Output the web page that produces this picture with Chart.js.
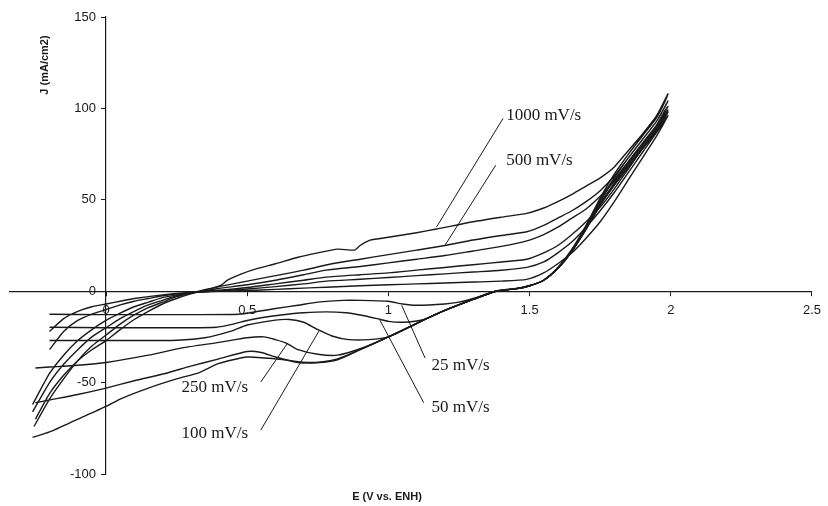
<!DOCTYPE html>
<html><head><meta charset="utf-8">
<script src="https://cdn.jsdelivr.net/npm/chart.js@4.4.1/dist/chart.umd.min.js"></script>
<style>html,body{margin:0;padding:0;background:#fff;}#wrap{width:828px;height:506px;}</style>
</head><body><div id="wrap"><canvas id="c" width="828" height="506"></canvas></div>
<script>
// ---- data (E in V vs. ENH, J in mA/cm2) ----
const xTicks = [0, 0.5, 1, 1.5, 2, 2.5];
const yTicks = [-100, -50, 0, 50, 100, 150];
const scanRates = ['25 mV/s', '50 mV/s', '100 mV/s', '250 mV/s', '500 mV/s', '1000 mV/s'];

const E_1000 = [-0.25,-0.2,-0.15,-0.1,-0.05,0,0.05,0.1,0.15,0.2,0.25,0.3,0.35,0.38,0.41,0.43,0.48,0.54,0.6,0.68,0.75,0.82,0.88,0.9,0.935,1.0,1.1,1.17,1.3,1.4,1.49,1.55,1.6,1.65,1.7,1.75,1.8,1.85,1.9,1.95,1.99,
  1.98,1.95,1.9,1.85,1.8,1.75,1.7,1.65,1.6,1.55,1.5,1.45,1.38,1.3,1.2,1.135,1.0,0.9,0.82,0.75,0.68,0.6,0.5,0.4,0.33,0.25,0.15,0.05,0,-0.1,-0.2,-0.26];
const J_1000 = [-70,-56,-46,-38,-32,-27,-21,-15.5,-11,-7,-4,-1.5,0.5,1.8,3.5,6,9.5,12.6,15,18.6,21,23,22.5,25,27.9,29.5,32,34,38,40.5,42.6,45.5,49,53,57.5,62,68,77,86,96,108,
  104,95,85,75,64,51,36,23,13,6,3,1.5,0,-4.5,-10.5,-15,-25,-32,-37.5,-39,-38.5,-37,-36,-39.5,-44.5,-48,-53,-59,-63,-70,-77,-80];

const E_500 = [-0.255,-0.2,-0.15,-0.1,-0.05,0,0.05,0.1,0.15,0.2,0.25,0.3,0.35,0.4,0.5,0.6,0.7,0.8,0.9,1.0,1.1,1.2,1.3,1.4,1.49,1.55,1.6,1.65,1.7,1.75,1.8,1.85,1.9,1.95,1.99,
  1.98,1.95,1.9,1.85,1.8,1.75,1.7,1.65,1.6,1.55,1.5,1.45,1.38,1.3,1.2,1.135,1.0,0.9,0.82,0.75,0.68,0.6,0.55,0.5,0.4,0.3,0.21,0.1,0,-0.1,-0.2,-0.25];
const J_500 = [-74,-59,-48,-38,-30,-24,-18,-13,-9,-6,-3,-1,0.8,2.5,5.5,8.5,11.5,15,17.5,20,22.5,25,28,30.5,32.5,36,40,44,49,55,63,73,83,93,104,
  101,93,83,73,62,50,35,22,12.5,6,3,1.3,0,-4.5,-10.5,-15,-25,-32,-37,-39,-39,-36,-33.5,-33,-37,-41,-45,-49,-53,-56.5,-59.5,-61];

const E_250 = [-0.26,-0.2,-0.15,-0.1,-0.05,0,0.05,0.1,0.15,0.2,0.25,0.3,0.35,0.4,0.5,0.6,0.7,0.78,0.9,1.0,1.1,1.2,1.3,1.4,1.49,1.55,1.6,1.65,1.7,1.75,1.8,1.85,1.9,1.95,1.99,
  1.98,1.95,1.9,1.85,1.8,1.75,1.7,1.65,1.6,1.55,1.5,1.45,1.38,1.3,1.2,1.135,1.0,0.9,0.82,0.75,0.68,0.64,0.6,0.56,0.5,0.4,0.27,0.15,0,-0.1,-0.2,-0.25];
const J_250 = [-66,-50,-40,-32,-25,-20,-15,-11,-7.5,-5,-2.5,-1,0.3,1.5,3.5,6,9,11.5,13.5,15.5,17.5,19.5,22,24.5,27.5,31,35,40,45,52,60,70,80,90,101,
  99,91,81,71,61,49,35,22,12.5,6,3,1.3,0,-4.5,-10.5,-15,-25,-31.5,-35,-34.5,-32,-28.5,-26.5,-25,-25.5,-28,-31,-35,-39,-40.5,-41.5,-42];

const E_100 = [-0.26,-0.2,-0.15,-0.1,-0.05,0,0.05,0.1,0.15,0.2,0.25,0.3,0.4,0.5,0.6,0.7,0.78,0.9,1.0,1.1,1.2,1.3,1.4,1.49,1.55,1.6,1.65,1.7,1.75,1.8,1.85,1.9,1.95,1.99,
  1.98,1.95,1.9,1.85,1.8,1.75,1.7,1.65,1.6,1.55,1.5,1.45,1.38,1.3,1.2,1.135,1.0,0.93,0.86,0.8,0.75,0.7,0.65,0.6,0.5,0.44,0.35,0.25,0.1,-0.2];
const J_100 = [-62,-45,-35,-27,-21,-16,-12,-8.5,-6,-3.5,-2,-0.8,0.5,2,4,6,7.7,9,10,11.5,13,14.5,16,17.5,21,25,31,38,46,56,67,78,88,99,
  97,89,79,69,59,48,34,22,12.5,6,3,1.3,0,-4.5,-10.5,-15,-25,-26.5,-26.5,-24.5,-21,-17,-15.5,-15.8,-18.5,-22,-25.5,-26.8,-27,-27];

const E_50 = [-0.2,-0.15,-0.1,-0.05,0,0.05,0.1,0.15,0.2,0.3,0.4,0.5,0.6,0.7,0.78,0.9,1.0,1.1,1.2,1.3,1.4,1.49,1.55,1.6,1.65,1.7,1.75,1.8,1.85,1.9,1.95,1.99,
  1.98,1.95,1.9,1.85,1.8,1.75,1.7,1.65,1.6,1.55,1.5,1.45,1.38,1.3,1.2,1.135,1.1,1.05,1.0,0.96,0.9,0.85,0.78,0.7,0.62,0.55,0.5,0.45,0.39,0.3,0,-0.2];
const J_50 = [-32,-22,-16,-12.5,-10,-7.5,-5.5,-4,-2.5,-0.8,0.2,1.2,2.5,4,5.5,6.5,7.5,8.5,9.5,10.5,11.5,13,16,21,27,35,44,54,65,76,87,98,
  96,88,78,68,58,47,34,22,12.5,6,3,1.3,0,-4.5,-10.5,-15,-16.3,-17,-16.5,-15,-13,-11.8,-11.3,-11.8,-13,-14.5,-16,-18,-19.7,-20,-20,-19.7];

const E_25 = [-0.2,-0.15,-0.1,-0.05,0,0.05,0.1,0.2,0.3,0.4,0.5,0.6,0.7,0.78,0.9,1.0,1.1,1.2,1.3,1.4,1.49,1.55,1.6,1.65,1.7,1.75,1.8,1.85,1.9,1.95,1.99,
  1.98,1.95,1.9,1.85,1.8,1.75,1.7,1.65,1.6,1.55,1.5,1.45,1.38,1.3,1.25,1.2,1.1,1.05,1.0,0.9,0.84,0.75,0.68,0.6,0.54,0.47,0.3,0,-0.2];
const J_25 = [-22,-15,-11,-8.5,-7,-5.5,-4,-2,-0.7,0,0.4,1,1.7,2.2,3,3.5,4,4.5,5,5.5,6.5,10,15,21,29,38,49,61,73,85,96,
  94,87,78,68,58,47,34,22,12.5,6,3,1.3,0,-4,-6,-7,-7.7,-7,-5.5,-5,-5,-6,-7.7,-9.5,-11,-12.6,-12.8,-12.8,-12.6];

// leader lines from each label to its curve
const leaderE = { '1000 mV/s':[1.406,1.17], '500 mV/s':[1.38,1.2], '250 mV/s':[0.548,0.643], '100 mV/s':[0.548,0.756], '25 mV/s':[1.13,1.047], '50 mV/s':[1.125,0.97] };
const leaderJ = { '1000 mV/s':[94.5,35], '500 mV/s':[68.9,25], '250 mV/s':[-49.7,-28.4], '100 mV/s':[-76,-21.3], '25 mV/s':[-36.6,-7.7], '50 mV/s':[-61,-15.8] };
</script>
<script>
const series = {'25 mV/s':[E_25,J_25],'50 mV/s':[E_50,J_50],'100 mV/s':[E_100,J_100],'250 mV/s':[E_250,J_250],'500 mV/s':[E_500,J_500],'1000 mV/s':[E_1000,J_1000]};
const toPts = (E,J) => E.map((e,i)=>({x:e,y:J[i]}));
const INK = '#1a1a1a';
const datasets = [];
scanRates.forEach(name => {
  const [E,J] = series[name];
  datasets.push({label:name, data:toPts(E,J), showLine:true, pointRadius:0, borderColor:INK, borderWidth:1.4, tension:0.2, fill:false});
});
scanRates.forEach(name => {
  datasets.push({label:'leader '+name, data:toPts(leaderE[name],leaderJ[name]), showLine:true, pointRadius:0, borderColor:INK, borderWidth:1, tension:0, fill:false});
});

// label anchors (left edge, vertical middle) in data units
const labelAnchors = [
  ['1000 mV/s',1.417,96.2],['500 mV/s',1.417,71.6],['250 mV/s',0.267,-52.5],
  ['100 mV/s',0.267,-77.6],['25 mV/s',1.153,-40.4],['50 mV/s',1.153,-63.4]
];

const textPlugin = {
  id:'texts',
  afterDraw(chart){
    const {ctx, scales:{x,y}} = chart;
    ctx.save();
    ctx.fillStyle = INK;
    ctx.font = '17px "Liberation Serif", "Times New Roman", serif';
    ctx.textBaseline = 'middle'; ctx.textAlign = 'left';
    labelAnchors.forEach(([t,e,j]) => ctx.fillText(t, x.getPixelForValue(e), y.getPixelForValue(j)));
    ctx.font = 'bold 11px "Liberation Sans", Arial, sans-serif';
    ctx.textAlign = 'center';
    ctx.fillText('E (V vs. ENH)', 387, 497);
    ctx.translate(45, 65); ctx.rotate(-Math.PI/2);
    ctx.fillText('J (mA/cm2)', 0, 0);
    ctx.restore();
  }
};

const tickFont = {family:'"Liberation Sans", Arial, sans-serif', size:13};
new Chart(document.getElementById('c'), {
  type:'scatter',
  data:{datasets},
  plugins:[textPlugin],
  options:{
    responsive:false, animation:false, devicePixelRatio:1,
    layout:{padding:{left:10,right:10,top:17,bottom:32}},
    plugins:{legend:{display:false}, tooltip:{enabled:false}},
    scales:{
      x:{type:'linear', min:-0.34, max:2.5, position:{y:0},
        afterBuildTicks:s=>{ s.ticks = xTicks.map(v=>({value:v})); },
        grid:{drawOnChartArea:false, drawTicks:true, tickLength:4, color:INK, lineWidth:1},
        border:{display:true, color:INK, width:1.2},
        ticks:{color:INK, font:tickFont, padding:7, maxRotation:0, autoSkip:false, callback:v=>String(v)}
      },
      y:{type:'linear', min:-100, max:150, position:{x:0},
        afterBuildTicks:s=>{ s.ticks = yTicks.map(v=>({value:v})); },
        grid:{drawOnChartArea:false, drawTicks:true, tickLength:4, color:INK, lineWidth:1},
        border:{display:true, color:INK, width:1.2},
        ticks:{color:INK, font:tickFont, padding:6, autoSkip:false, callback:v=>String(v) + '\u2002 '}
      }
    }
  }
});
</script>
</body></html>
